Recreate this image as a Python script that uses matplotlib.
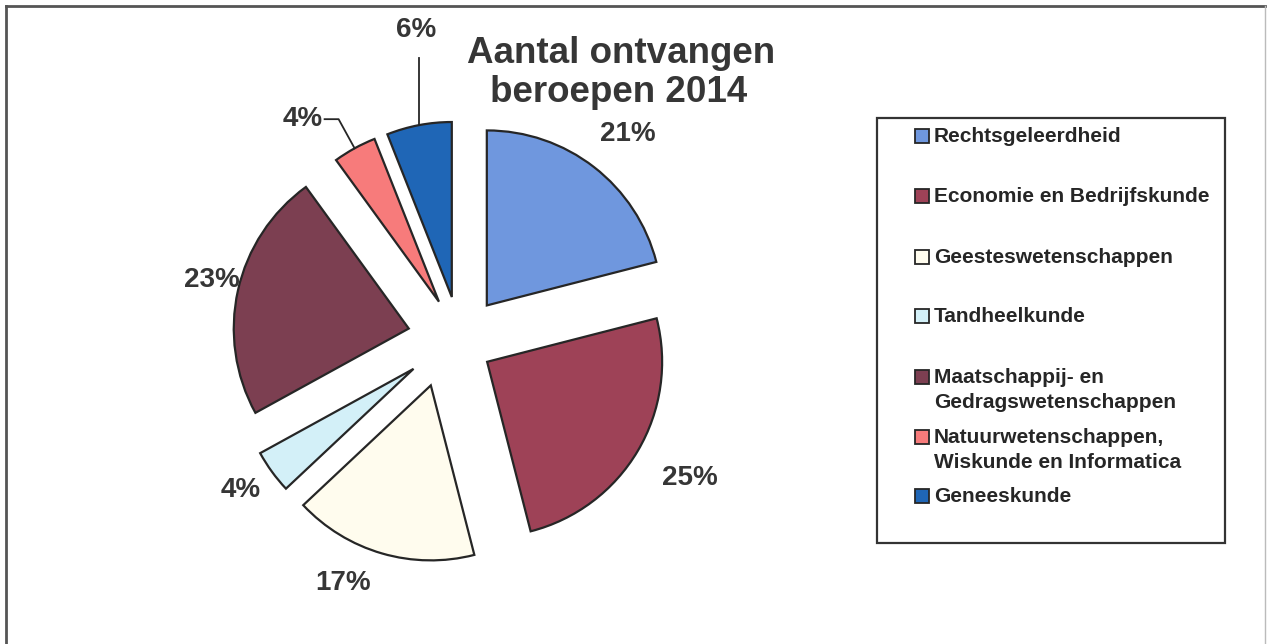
import numpy as np
import matplotlib
matplotlib.use("Agg")
import matplotlib.pyplot as plt
from matplotlib.patches import Rectangle
from matplotlib.lines import Line2D

plt.rcParams['font.family'] = ['Liberation Sans', 'DejaVu Sans']

# ---- data ----
categories = [
    "Rechtsgeleerdheid",
    "Economie en Bedrijfskunde",
    "Geesteswetenschappen",
    "Tandheelkunde",
    "Maatschappij- en\nGedragswetenschappen",
    "Natuurwetenschappen,\nWiskunde en Informatica",
    "Geneeskunde",
]
values = [21, 25, 17, 4, 23, 4, 6]
colors = ["#6F97DE", "#9E4257", "#FFFCEE", "#D3F0F8", "#7C3F51", "#F77B7B", "#1F66B6"]
title_lines = ["Aantal ontvangen", "beroepen 2014"]

# ---- layout / style ----
W, H = 1267, 644
R = 175.0              # pie radius in px
cx, cy = 460, 340      # pie centre (image px)
explode = [0.25, 0.20, 0.27, 0.30, 0.30, 0.25, 0.25]
extra_shift_px = [(0, 0), (-3, -4), (-16, 0), (-4, 2), (0, 0), (0, 0), (0, 0)]
label_dist = [1.52, 1.53, 1.54, 1.52, 1.46, 1.61, 1.79]
label_off = [-1.3, -0.4, -9.6, -1.7, -1.0, 6.2, -2.8]
text_col = "#363636"
edge_col = "#262626"

fig = plt.figure(figsize=(W / 100, H / 100), dpi=100)
fig.patch.set_facecolor("white")

ax = fig.add_axes([0, 0, 1, 1])
wedges, _ = ax.pie(values, colors=colors, explode=explode, startangle=90,
                   counterclock=False, radius=1.0, center=(0, 0),
                   wedgeprops=dict(edgecolor=edge_col, linewidth=1.6))
for w, (sx, sy) in zip(wedges, extra_shift_px):
    w.set_center((w.center[0] + sx / R, w.center[1] + sy / R))
ax.set_aspect('auto')
ax.set_xlim(-cx / R, (W - cx) / R)
ax.set_ylim(-(H - cy) / R, cy / R)
ax.axis('off')

for i, (w, v) in enumerate(zip(wedges, values)):
    mid = np.deg2rad((w.theta1 + w.theta2) / 2)
    ang = mid + np.deg2rad(label_off[i])
    lx, ly = label_dist[i] * np.cos(ang), label_dist[i] * np.sin(ang)
    px = w.center[0] + w.r * np.cos(mid)
    py = w.center[1] + w.r * np.sin(mid)
    if i == 5:
        kx = px + 0.19 * np.cos(mid)
        ky = py + 0.19 * np.sin(mid)
        ex = kx - 0.08
        ax.add_line(Line2D([px, kx, ex], [py, ky, ky], color=edge_col, lw=1.3))
        ax.text(ex - 0.01, ky, f"{v}%", ha='right', va='center',
                fontsize=20, fontweight='bold', color=text_col)
    elif i == 6:
        ax.add_line(Line2D([px, px], [py, ly - 0.16], color=edge_col, lw=1.3))
        ax.text(lx, ly, f"{v}%", ha='center', va='center',
                fontsize=20, fontweight='bold', color=text_col)
    else:
        ax.text(lx, ly, f"{v}%", ha='center', va='center',
                fontsize=20, fontweight='bold', color=text_col)

# ---- overlay in image pixel coordinates ----
ov = fig.add_axes([0, 0, 1, 1], zorder=5)
ov.set_xlim(0, W)
ov.set_ylim(H, 0)
ov.axis('off')
ov.patch.set_alpha(0)

# outer frame
ov.add_line(Line2D([6, 6], [H + 5, 6], color="#555555", lw=2.0))
ov.add_line(Line2D([6, 1265], [6, 6], color="#555555", lw=2.0))
ov.add_line(Line2D([1265, 1265], [6, H + 5], color="#bbbbbb", lw=1.0))

# title
ov.text(621, 63, title_lines[0], ha='center', va='baseline', fontsize=26.5,
        fontweight='bold', color=text_col)
ov.text(619, 102, title_lines[1], ha='center', va='baseline', fontsize=26.5,
        fontweight='bold', color=text_col)

# legend
ov.add_patch(Rectangle((877, 118), 1225 - 877, 543 - 118, fill=False,
                       edgecolor="#333333", lw=1.6))
entry_y = [136, 196, 257, 316, 377, 437, 496]
for cat, col, y in zip(categories, colors, entry_y):
    ov.add_patch(Rectangle((915, y - 7), 14, 14, facecolor=col,
                           edgecolor=edge_col, lw=1.3))
    for k, line in enumerate(cat.split("\n")):
        ov.text(934, y + 25 * k, line, ha='left', va='center', fontsize=15,
                fontweight='bold', color="#262626")

fig.savefig("out.png", dpi=100, facecolor="white")
